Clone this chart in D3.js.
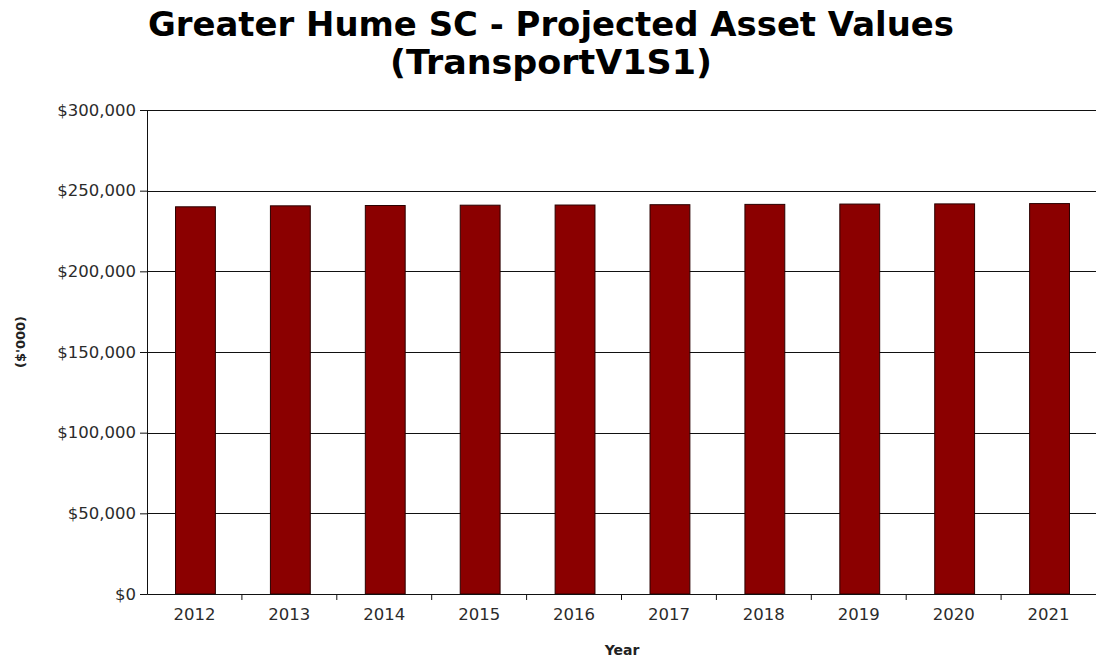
<!DOCTYPE html>
<html lang="en">
<head>
    <meta charset="UTF-8">
    <title>Greater Hume SC - Projected Asset Values</title>
    <script src="https://d3js.org/d3.v7.min.js"></script>
    <style>
        body { margin: 0; background: #fff; }
        svg { display: block; }
        .tick text { font-family: "DejaVu Sans", Verdana, sans-serif; font-size: 16.5px; fill: #2b2b2b; }
    </style>
</head>
<body>
    <svg width="1096" height="659"></svg>

    <script>
        // data
        const years = ["2012", "2013", "2014", "2015", "2016", "2017", "2018", "2019", "2020", "2021"];
        const values = [240000, 240600, 240800, 241000, 241100, 241300, 241500, 241700, 241800, 242000];
        const yTicks = [0, 50000, 100000, 150000, 200000, 250000, 300000];

        const svg = d3.select("svg"),
              margin = {top: 110, right: 0, bottom: 65, left: 147},
              width = +svg.attr("width") - margin.left - margin.right,
              height = +svg.attr("height") - margin.top - margin.bottom;

        const g = svg.append("g").attr("transform", `translate(${margin.left},${margin.top})`);

        const x = d3.scaleBand().domain(years).range([0, width]).paddingInner(0.58).paddingOuter(0.29);
        const y = d3.scaleLinear().domain([0, 300000]).range([height, 0]);

        // gridlines
        g.append("g")
            .selectAll("line")
            .data(yTicks.filter(d => d > 0))
            .join("line")
            .attr("x1", 0).attr("x2", width)
            .attr("y1", d => Math.round(y(d)) + 0.5).attr("y2", d => Math.round(y(d)) + 0.5)
            .attr("stroke", "#111").attr("stroke-width", 1);

        // bars
        g.append("g")
            .selectAll("rect")
            .data(values)
            .join("rect")
            .attr("x", (d, i) => x(years[i]) + 1)
            .attr("y", d => y(d))
            .attr("width", x.bandwidth())
            .attr("height", d => height - y(d))
            .attr("fill", "#8b0000")
            .attr("stroke", "#2a0000")
            .attr("stroke-width", 1);

        // y axis
        const yAxis = g.append("g")
            .call(d3.axisLeft(y).tickValues(yTicks).tickSize(7).tickPadding(4)
                .tickFormat(d => "$" + d3.format(",")(d)));
        yAxis.select(".domain").attr("stroke", "#111");
        yAxis.selectAll(".tick line").attr("stroke", "#111");

        // x axis: labels centred on bands, tick marks at band edges
        const step = x.step();
        const xAxis = g.append("g").attr("transform", `translate(0,${height})`)
            .call(d3.axisBottom(x).tickSize(0).tickPadding(14));
        xAxis.select(".domain").attr("stroke", "#111");
        xAxis.selectAll(".tick").attr("transform", (d, i) => `translate(${(i + 0.5) * step},0)`);

        g.append("g").attr("transform", `translate(0,${height})`)
            .selectAll("line")
            .data(years.slice(1))
            .join("line")
            .attr("x1", (d, i) => (i + 1) * step).attr("x2", (d, i) => (i + 1) * step)
            .attr("y1", 0).attr("y2", 6)
            .attr("stroke", "#111");

        // titles
        const title = svg.append("text")
            .attr("text-anchor", "middle")
            .attr("font-family", "'DejaVu Sans', Verdana, sans-serif")
            .attr("font-weight", "bold")
            .attr("font-size", 34)
            .attr("fill", "#000");
        title.append("tspan").attr("x", 551).attr("y", 36)
            .attr("textLength", 806).attr("lengthAdjust", "spacingAndGlyphs")
            .text("Greater Hume SC - Projected Asset Values");
        title.append("tspan").attr("x", 551).attr("y", 74)
            .attr("textLength", 322).attr("lengthAdjust", "spacingAndGlyphs")
            .text("(TransportV1S1)");

        svg.append("text")
            .attr("x", 622).attr("y", 655)
            .attr("text-anchor", "middle")
            .attr("font-family", "'DejaVu Sans', Verdana, sans-serif")
            .attr("font-weight", "bold")
            .attr("font-size", 14)
            .attr("fill", "#222")
            .text("Year");

        svg.append("text")
            .attr("transform", "translate(25,342) rotate(-90)")
            .attr("text-anchor", "middle")
            .attr("font-family", "'DejaVu Sans', Verdana, sans-serif")
            .attr("font-weight", "bold")
            .attr("font-size", 13)
            .attr("fill", "#222")
            .text("($'000)");
    </script>
</body>
</html>
